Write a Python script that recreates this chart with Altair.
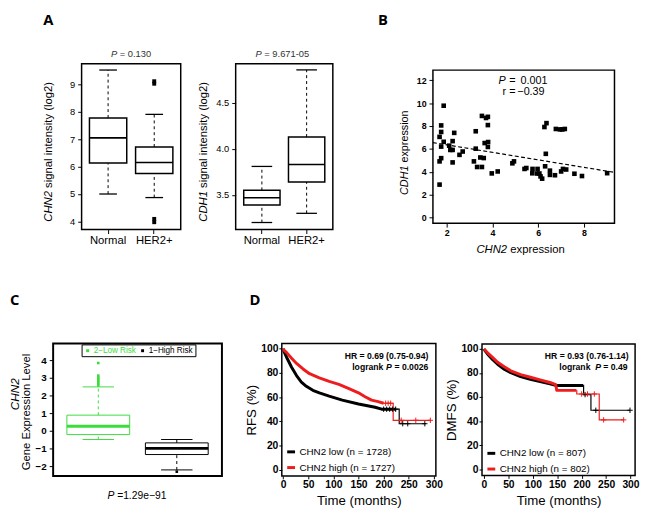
import altair as alt
import pandas as pd

FONT = "Liberation Sans"
LETTER_FONT = "Open Sans"
GREEN = "#3ddc3d"
RED = "#ee1d1d"

# ---------------- Panel A (box plots) ----------------
A_GROUPS = ["Normal", "HER2+"]
A1_LOW = [5.00, 4.87]
A1_Q1 = [6.13, 5.75]
A1_MED = [7.05, 6.15]
A1_Q3 = [7.78, 6.72]
A1_HIGH = [9.53, 7.91]
A1_OUT_GROUP = ["HER2+", "HER2+", "HER2+", "HER2+"]
A1_OUT_VALUE = [9.12, 9.03, 4.09, 3.97]
A1_YTICKS = [4, 5, 6, 7, 8, 9]

A2_LOW = [3.20, 3.30]
A2_Q1 = [3.39, 3.64]
A2_MED = [3.47, 3.83]
A2_Q3 = [3.55, 4.13]
A2_HIGH = [3.81, 4.86]
A2_OUT_GROUP = []
A2_OUT_VALUE = []
A2_YTICKS = [3.5, 4.0, 4.5]

# ---------------- Panel B (scatter) ----------------
B_X = [1.87, 1.76, 1.76, 1.69, 1.87, 1.76, 2.11, 2.33, 2.26, 2.16,
       2.26, 1.69, 1.76, 2.26, 1.69, 2.56, 2.70, 3.27, 3.54, 3.72,
       3.80, 3.80, 3.66, 3.81, 3.80, 3.27, 3.47, 3.19, 3.33, 3.54,
       3.97, 4.23, 4.87, 4.94, 5.40, 5.48, 5.75, 5.74, 5.97, 5.95,
       6.10, 6.17, 6.05, 6.27, 6.36, 6.33, 6.30, 6.51, 6.51, 6.73,
       6.77, 6.95, 7.05, 7.16, 7.00, 7.08, 7.22, 7.58, 7.91, 9.01,
       3.62]
B_Y = [9.77, 8.05, 7.48, 7.05, 6.62, 6.20, 6.28, 7.40, 6.68, 5.91,
       5.91, 4.91, 5.19, 4.82, 2.88, 5.48, 5.77, 7.54, 8.88, 8.70,
       8.80, 8.08, 6.51, 6.60, 6.17, 6.02, 5.25, 4.91, 4.42, 4.42,
       3.86, 4.03, 4.74, 4.91, 4.25, 4.33, 4.25, 3.87, 4.25, 3.85,
       3.60, 3.40, 3.85, 7.91, 8.25, 5.57, 4.48, 3.73, 4.10, 3.70,
       7.74, 7.70, 7.70, 7.74, 4.03, 4.25, 4.20, 3.83, 3.63, 3.88,
       5.20]
B_FIT_X = [1.40, 9.33]
B_FIT_Y = [6.55, 3.95]
B_XTICKS = [2, 4, 6, 8]
B_YTICKS = [0, 2, 4, 6, 8, 10, 12]

# ---------------- Panel C (risk box plots) ----------------
C_GROUPS = ["2−Low Risk", "1−High Risk"]
C_LOW = [-0.48, -2.20]
C_Q1 = [-0.20, -1.33]
C_MED = [0.27, -0.98]
C_Q3 = [0.90, -0.67]
C_HIGH = [2.50, -0.48]
C_OUT_GROUP = ["2−Low Risk"] * 8 + ["1−High Risk"]
C_OUT_VALUE = [2.58, 2.67, 2.76, 2.85, 2.94, 3.03, 3.14, 3.85, -2.30]
C_YTICKS = [-2, -1, 0, 1, 2, 3, 4]

# ---------------- Panel D (Kaplan-Meier) ----------------
D_XTICKS = [0, 50, 100, 150, 200, 250, 300]
D_YTICKS = [0, 20, 40, 60, 80, 100]

D1_LOW_LABEL = "CHN2 low  (n = 1728)"
D1_HIGH_LABEL = "CHN2 high (n = 1727)"
D1_LOW_T = [0, 1.8, 7.0, 16.8, 26.6, 36.3, 46.1, 59.1, 72.1, 91.6, 117.7, 150, 183, 196, 225]
D1_LOW_S = [100, 97.5, 92.7, 84.6, 77.8, 72.4, 68.9, 65.6, 63.5, 60.8, 57.5, 54.3, 51.6, 50.0, 50.0]
D1_LOW_TAIL_T = [225, 231, 284]
D1_LOW_TAIL_S = [50.0, 38.0, 38.0]
D1_LOW_CENS_T = [200, 206, 212, 218, 224, 238, 248, 282]
D1_LOW_CENS_S = [50.0, 50.0, 50.0, 50.0, 50.0, 38.0, 38.0, 38.0]
D1_HIGH_T = [0, 2, 7, 16.8, 26.6, 39.5, 52.5, 72, 91.6, 111, 131, 150, 163, 176, 189, 200]
D1_HIGH_S = [100, 98.6, 96.7, 92.1, 87.8, 83.2, 79.3, 75.9, 72.9, 70.5, 67.0, 63.5, 60.3, 57.5, 56.2, 54.9]
D1_HIGH_TAIL_T = [200, 219, 294]
D1_HIGH_TAIL_S = [54.9, 40.8, 40.8]
D1_HIGH_CENS_T = [204, 209, 214, 235, 264, 293]
D1_HIGH_CENS_S = [54.9, 54.9, 54.9, 40.8, 40.8, 40.8]

D2_LOW_LABEL = "CHN2 low  (n = 807)"
D2_HIGH_LABEL = "CHN2 high (n = 802)"
D2_LOW_T = [0, 2, 8, 18, 28, 41.5, 54.9, 75, 95, 115, 135, 148.6, 203]
D2_LOW_S = [100, 98.5, 95.4, 91.0, 87.2, 83.1, 80.2, 76.9, 74.7, 72.9, 70.9, 69.6, 69.6]
D2_LOW_TAIL_T = [203, 204, 219, 299]
D2_LOW_TAIL_S = [69.6, 62.0, 49.0, 49.0]
D2_LOW_CENS_T = [207, 229, 299]
D2_LOW_CENS_S = [62.0, 49.0, 49.0]
D2_HIGH_T = [0, 2, 8, 18, 28, 41.5, 54.9, 75, 95, 115, 135, 147, 149, 189]
D2_HIGH_S = [100, 99.0, 96.5, 92.7, 88.8, 85.1, 81.8, 78.6, 76.4, 74.2, 72.1, 70.2, 65.6, 65.5]
D2_HIGH_TAIL_T = [189, 190, 236, 286]
D2_HIGH_TAIL_S = [65.5, 62.5, 41.0, 41.0]
D2_HIGH_CENS_T = [200, 212, 226, 245, 286]
D2_HIGH_CENS_S = [62.5, 62.5, 62.5, 41.0, 41.0]


def txt(s, x, y, size=11.0, style="normal", weight="normal", align="left",
        angle=0, color="black", font=FONT):
    props = dict(font=font, fontSize=size, fontStyle=style, fontWeight=weight,
                 align=align, baseline="alphabetic", color=color)
    if angle:
        props["angle"] = angle
    return alt.Chart(pd.DataFrame({"t": [s]})).mark_text(**props).encode(
        text="t:N", x=alt.value(x), y=alt.value(y))


def letter(s, x, y):
    return txt(s, x, y, size=15, weight="bold", font=LETTER_FONT)


def spacer(w):
    return alt.Chart(pd.DataFrame({"v": [0]})).mark_point(size=0, opacity=0).encode(
        x=alt.value(0), y=alt.value(0)
    ).properties(width=w, height=10,
                 view=alt.ViewBackground(stroke="transparent", fill="transparent"))


def panel_a(low, q1, med, q3, high, out_g, out_v, ydom, yticks, yfmt, width, height,
            p_outer, box_w, cap_w, extras):
    df = pd.DataFrame({"g": A_GROUPS, "low": low, "q1": q1, "med": med, "q3": q3, "high": high})
    xs = alt.Scale(type="band", domain=A_GROUPS, paddingInner=0, paddingOuter=p_outer)
    ys = alt.Scale(domain=ydom, nice=False, zero=False)
    X = alt.X("g:N", scale=xs, sort=A_GROUPS,
              axis=alt.Axis(title=None, labelAngle=0, labelFontSize=11.5, tickSize=4,
                            labelPadding=1))
    yax = alt.Axis(title=None, values=yticks, format=yfmt, tickSize=4, labelFontSize=9.5,
                   labelPadding=3)

    def Y(f):
        return alt.Y(f, scale=ys, axis=yax)

    base = alt.Chart(df)
    w_hi = base.mark_rule(color="black", strokeWidth=1, strokeDash=[3, 3]).encode(
        x=X, y=Y("q3:Q"), y2="high:Q")
    w_lo = base.mark_rule(color="black", strokeWidth=1, strokeDash=[3, 3]).encode(
        x=X, y=Y("low:Q"), y2="q1:Q")
    box = base.mark_bar(size=box_w, fill="white", stroke="black", strokeWidth=1.5).encode(
        x=X, y=Y("q1:Q"), y2="q3:Q")
    med_t = base.mark_tick(color="black", size=box_w, thickness=1.6, opacity=1).encode(
        x=X, y=Y("med:Q"))
    cap_hi = base.mark_tick(color="black", size=cap_w, thickness=1.3, opacity=1).encode(
        x=X, y=Y("high:Q"))
    cap_lo = base.mark_tick(color="black", size=cap_w, thickness=1.3, opacity=1).encode(
        x=X, y=Y("low:Q"))
    layers = [w_hi, w_lo, box, med_t, cap_hi, cap_lo]
    if out_g:
        odf = pd.DataFrame({"g": out_g, "v": out_v})
        layers.append(alt.Chart(odf).mark_square(size=16, color="black", opacity=1).encode(
            x=X, y=Y("v:Q")))
    layers += extras
    return alt.layer(*layers).properties(
        width=width, height=height,
        view=alt.ViewBackground(stroke="black", strokeWidth=1.5))


# Panel A1
a1 = panel_a(A1_LOW, A1_Q1, A1_MED, A1_Q3, A1_HIGH, A1_OUT_GROUP, A1_OUT_VALUE,
             [3.70, 9.76], A1_YTICKS, "d", 101, 169, 0.0745, 38, 18,
             [letter("A", -39, -39),
              txt("P", 30, -6.7, size=9.5, style="italic", color="#333333"),
              txt("= 0.130", 38.9, -6.7, size=9.5, color="#333333"),
              txt("CHN2", -30.1, 161, size=11.5, style="italic", angle=270),
              txt("signal intensity (log2)", -30.1, 126.5, size=11.5, angle=270)])

# Panel A2
a2 = panel_a(A2_LOW, A2_Q1, A2_MED, A2_Q3, A2_HIGH, A2_OUT_GROUP, A2_OUT_VALUE,
             [3.123, 4.927], A2_YTICKS, ".1f", 99, 169, 0.0855, 37, 21,
             [txt("P", 20.3, -6.7, size=9.5, style="italic", color="#333333"),
              txt("= 9.671-05", 29.2, -6.7, size=9.5, color="#333333"),
              txt("CDH1", -29.3, 161, size=11.5, style="italic", angle=270),
              txt("signal intensity (log2)", -29.3, 126.5, size=11.5, angle=270)])

# Panel B
b_df = pd.DataFrame({"x": B_X, "y": B_Y})
fit_df = pd.DataFrame({"x": B_FIT_X, "y": B_FIT_Y})
bxs = alt.Scale(domain=[1.40, 9.33], nice=False, zero=False)
bys = alt.Scale(domain=[-0.49, 12.88], nice=False, zero=False)
BX = alt.X("x:Q", scale=bxs, axis=alt.Axis(title=None, values=B_XTICKS, tickSize=4,
                                            labelPadding=2, labelFontSize=9,
                                            labelFontWeight="bold"))
BY = alt.Y("y:Q", scale=bys, axis=alt.Axis(title=None, values=B_YTICKS, tickSize=4,
                                            labelPadding=3, labelFontSize=9,
                                            labelFontWeight="bold"))
b_pts = alt.Chart(b_df).mark_square(size=22, color="black", opacity=1).encode(x=BX, y=BY)
b_fit = alt.Chart(fit_df).mark_line(color="black", strokeWidth=1.2,
                                    strokeDash=[4, 2.5]).encode(x=BX, y=BY)
b = alt.layer(
    b_fit, b_pts,
    letter("B", -56, -45.5),
    txt("P", 66.7, 14.5, size=11, style="italic"),
    txt("=", 77.7, 14.5, size=11),
    txt("0.001", 89.3, 14.5, size=11),
    txt("r", 71, 25.2, size=11),
    txt("=", 77.7, 25.2, size=11),
    txt("−0.39", 86, 25.2, size=11),
    txt("CDH1", -25.6, 127.2, size=11, style="italic", angle=270),
    txt("expression", -25.6, 94.2, size=11, angle=270),
    txt("CHN2", 44.3, 186.8, size=11.5, style="italic"),
    txt("expression", 78.8, 186.8, size=11.5),
).properties(width=185, height=156,
             view=alt.ViewBackground(stroke="black", strokeWidth=1.5))

# Panel C
c_df = pd.DataFrame({"g": C_GROUPS, "low": C_LOW, "q1": C_Q1, "med": C_MED, "q3": C_Q3,
                     "high": C_HIGH})
c_out = pd.DataFrame({"g": C_OUT_GROUP, "v": C_OUT_VALUE})
cxs = alt.Scale(type="band", domain=C_GROUPS, paddingInner=0, paddingOuter=0.075)
cys = alt.Scale(domain=[-2.54, 4.96], nice=False, zero=False)
CX = alt.X("g:N", scale=cxs, sort=C_GROUPS, axis=None)
cyax = alt.Axis(title=None, values=C_YTICKS, format="d", tickSize=4, labelPadding=3,
                labelFontSize=10, labelFontWeight="bold")
CCOL = alt.Color(
    "g:N",
    scale=alt.Scale(domain=C_GROUPS, range=[GREEN, "black"]),
    legend=alt.Legend(
        title=None, orient="none", legendX=29, legendY=1, direction="horizontal",
        symbolType="square", symbolSize=9, symbolStrokeWidth=0,
        labelFont=FONT, labelFontSize=8.3, labelOffset=2, columnPadding=2,
        labelColor=alt.ExprRef(expr="datum.label == '2−Low Risk' ? '" + GREEN + "' : 'black'"),
        strokeColor="black", fillColor="white", padding=2),
)


def CY(f):
    return alt.Y(f, scale=cys, axis=cyax)


c_base = alt.Chart(c_df)
c_layers = [
    alt.Chart(c_out).mark_square(size=7, opacity=1).encode(x=CX, y=CY("v:Q"), color=CCOL),
    c_base.mark_rule(strokeWidth=1, strokeDash=[3, 3]).encode(x=CX, y=CY("q3:Q"), y2="high:Q",
                                                              color=CCOL),
    c_base.mark_rule(strokeWidth=1, strokeDash=[3, 3]).encode(x=CX, y=CY("low:Q"), y2="q1:Q",
                                                              color=CCOL),
    c_base.mark_bar(size=64, filled=False, strokeWidth=1).encode(x=CX, y=CY("q1:Q"), y2="q3:Q",
                                                                 color=CCOL),
    c_base.mark_tick(size=64, thickness=3, opacity=1).encode(x=CX, y=CY("med:Q"), color=CCOL),
    c_base.mark_tick(size=32, thickness=1, opacity=1).encode(x=CX, y=CY("high:Q"), color=CCOL),
    c_base.mark_tick(size=32, thickness=1, opacity=1).encode(x=CX, y=CY("low:Q"), color=CCOL),
    letter("C", -44, -39),
    txt("CHN2", -34.4, 51.8, size=12, style="italic", angle=270, align="center"),
    txt("Gene Expression Level", -24, 69.9, size=11.5, angle=270, align="center"),
    txt("P", 55.3, 158.7, size=10.5, style="italic"),
    txt("=1.29e−91", 65.2, 158.7, size=10.5),
]
c = alt.layer(*c_layers).properties(width=172, height=135,
                                    view=alt.ViewBackground(stroke="black", strokeWidth=2))


def km_frame(label, t, s):
    return pd.DataFrame({"t": t, "s": s, "grp": [label] * len(t)})


def panel_d(low_lab, high_lab, lt, ls, ltt, lts, lct, lcs, ht, hs, htt, hts, hct, hcs,
            xdom, ydom, ytitle, width, height, legend_y, extras):
    dense = pd.concat([km_frame(low_lab, lt, ls), km_frame(high_lab, ht, hs)])
    tail = pd.concat([km_frame(low_lab, ltt, lts), km_frame(high_lab, htt, hts)])
    cens = pd.concat([km_frame(low_lab, lct, lcs), km_frame(high_lab, hct, hcs)])
    xs = alt.Scale(domain=xdom, nice=False, zero=False)
    ys = alt.Scale(domain=ydom, nice=False, zero=False)
    X = alt.X("t:Q", scale=xs, axis=alt.Axis(
        title="Time (months)", values=D_XTICKS, tickSize=3, labelPadding=1,
        labelFontSize=10.5, labelFontWeight="bold", titleFontSize=13.5,
        titleFontWeight="normal", titlePadding=4))
    Y = alt.Y("s:Q", scale=ys, axis=alt.Axis(
        title=ytitle, values=D_YTICKS, tickSize=3, labelPadding=1,
        labelFontSize=10.5, labelFontWeight="bold", titleFontSize=13.5,
        titleFontWeight="normal", titlePadding=2))
    col = alt.Color("grp:N", sort=[low_lab, high_lab],
                    scale=alt.Scale(domain=[low_lab, high_lab], range=["black", RED]),
                    legend=alt.Legend(title=None, orient="none", legendX=4, legendY=legend_y,
                                      symbolType="stroke", symbolSize=64, symbolStrokeWidth=3,
                                      labelFont=FONT, labelFontSize=10, labelOffset=3,
                                      rowPadding=3, padding=0))
    l1 = alt.Chart(dense).mark_line(strokeWidth=3, strokeJoin="round").encode(
        x=X, y=Y, color=col, order="t:Q")
    l2 = alt.Chart(tail).mark_line(strokeWidth=1.2, interpolate="step-after").encode(
        x=X, y=Y, color=col, order="t:Q")
    l3 = alt.Chart(cens).mark_point(shape="M-1,0L1,0M0,-1L0,1", size=30, filled=False,
                                    strokeWidth=1, opacity=1).encode(x=X, y=Y, color=col)
    return alt.layer(l1, l2, l3, *extras).properties(
        width=width, height=height,
        view=alt.ViewBackground(stroke="black", strokeWidth=1.5))


d1 = panel_d(D1_LOW_LABEL, D1_HIGH_LABEL,
             D1_LOW_T, D1_LOW_S, D1_LOW_TAIL_T, D1_LOW_TAIL_S, D1_LOW_CENS_T, D1_LOW_CENS_S,
             D1_HIGH_T, D1_HIGH_S, D1_HIGH_TAIL_T, D1_HIGH_TAIL_S, D1_HIGH_CENS_T, D1_HIGH_CENS_S,
             [-2.7, 304], [-5.1, 104.3], "RFS (%)", 157, 135, 105,
             [letter("D", -33, -39),
              txt("HR = 0.69 (0.75-0.94)", 149.3, 16, size=8.8, weight="bold", align="right"),
              txt("logrank", 103.5, 26.7, size=8.8, weight="bold", align="right"),
              txt("P", 106.3, 26.7, size=8.8, weight="bold", style="italic"),
              txt("= 0.0026", 149.3, 26.7, size=8.8, weight="bold", align="right")])

d2 = panel_d(D2_LOW_LABEL, D2_HIGH_LABEL,
             D2_LOW_T, D2_LOW_S, D2_LOW_TAIL_T, D2_LOW_TAIL_S, D2_LOW_CENS_T, D2_LOW_CENS_S,
             D2_HIGH_T, D2_HIGH_S, D2_HIGH_TAIL_T, D2_HIGH_TAIL_S, D2_HIGH_CENS_T, D2_HIGH_CENS_S,
             [-4, 309.4], [-5.1, 104.1], "DMFS (%)", 156, 134, 106,
             [txt("HR = 0.93 (0.76-1.14)", 149.3, 15.5, size=8.8, weight="bold", align="right"),
              txt("logrank", 110.5, 26.2, size=8.8, weight="bold", align="right"),
              txt("P", 115.3, 26.2, size=8.8, weight="bold", style="italic"),
              txt("= 0.49", 148.3, 26.2, size=8.8, weight="bold", align="right")])

row1 = alt.hconcat(spacer(29), a1, spacer(56), a2, spacer(102), b,
                   spacing=0, bounds="flush", center=True)
row2 = alt.hconcat(c, spacer(61), d1, spacer(47), d2,
                   spacing=0, bounds="flush", center=True).resolve_scale(color="independent")

chart = alt.vconcat(row1, row2, spacing=285, bounds="flush").resolve_scale(
    color="independent"
).properties(
    padding={"left": 0, "top": 0, "right": 0, "bottom": 0},
    background="white",
).configure_axis(
    labelFont=FONT, titleFont=FONT, labelColor="black", titleColor="black",
    tickColor="black", tickWidth=1, domain=False, grid=False,
).configure_legend(
    labelFont=FONT,
).configure_text(font=FONT)

chart.save("out.html", embed_options={"renderer": "svg", "actions": False})
